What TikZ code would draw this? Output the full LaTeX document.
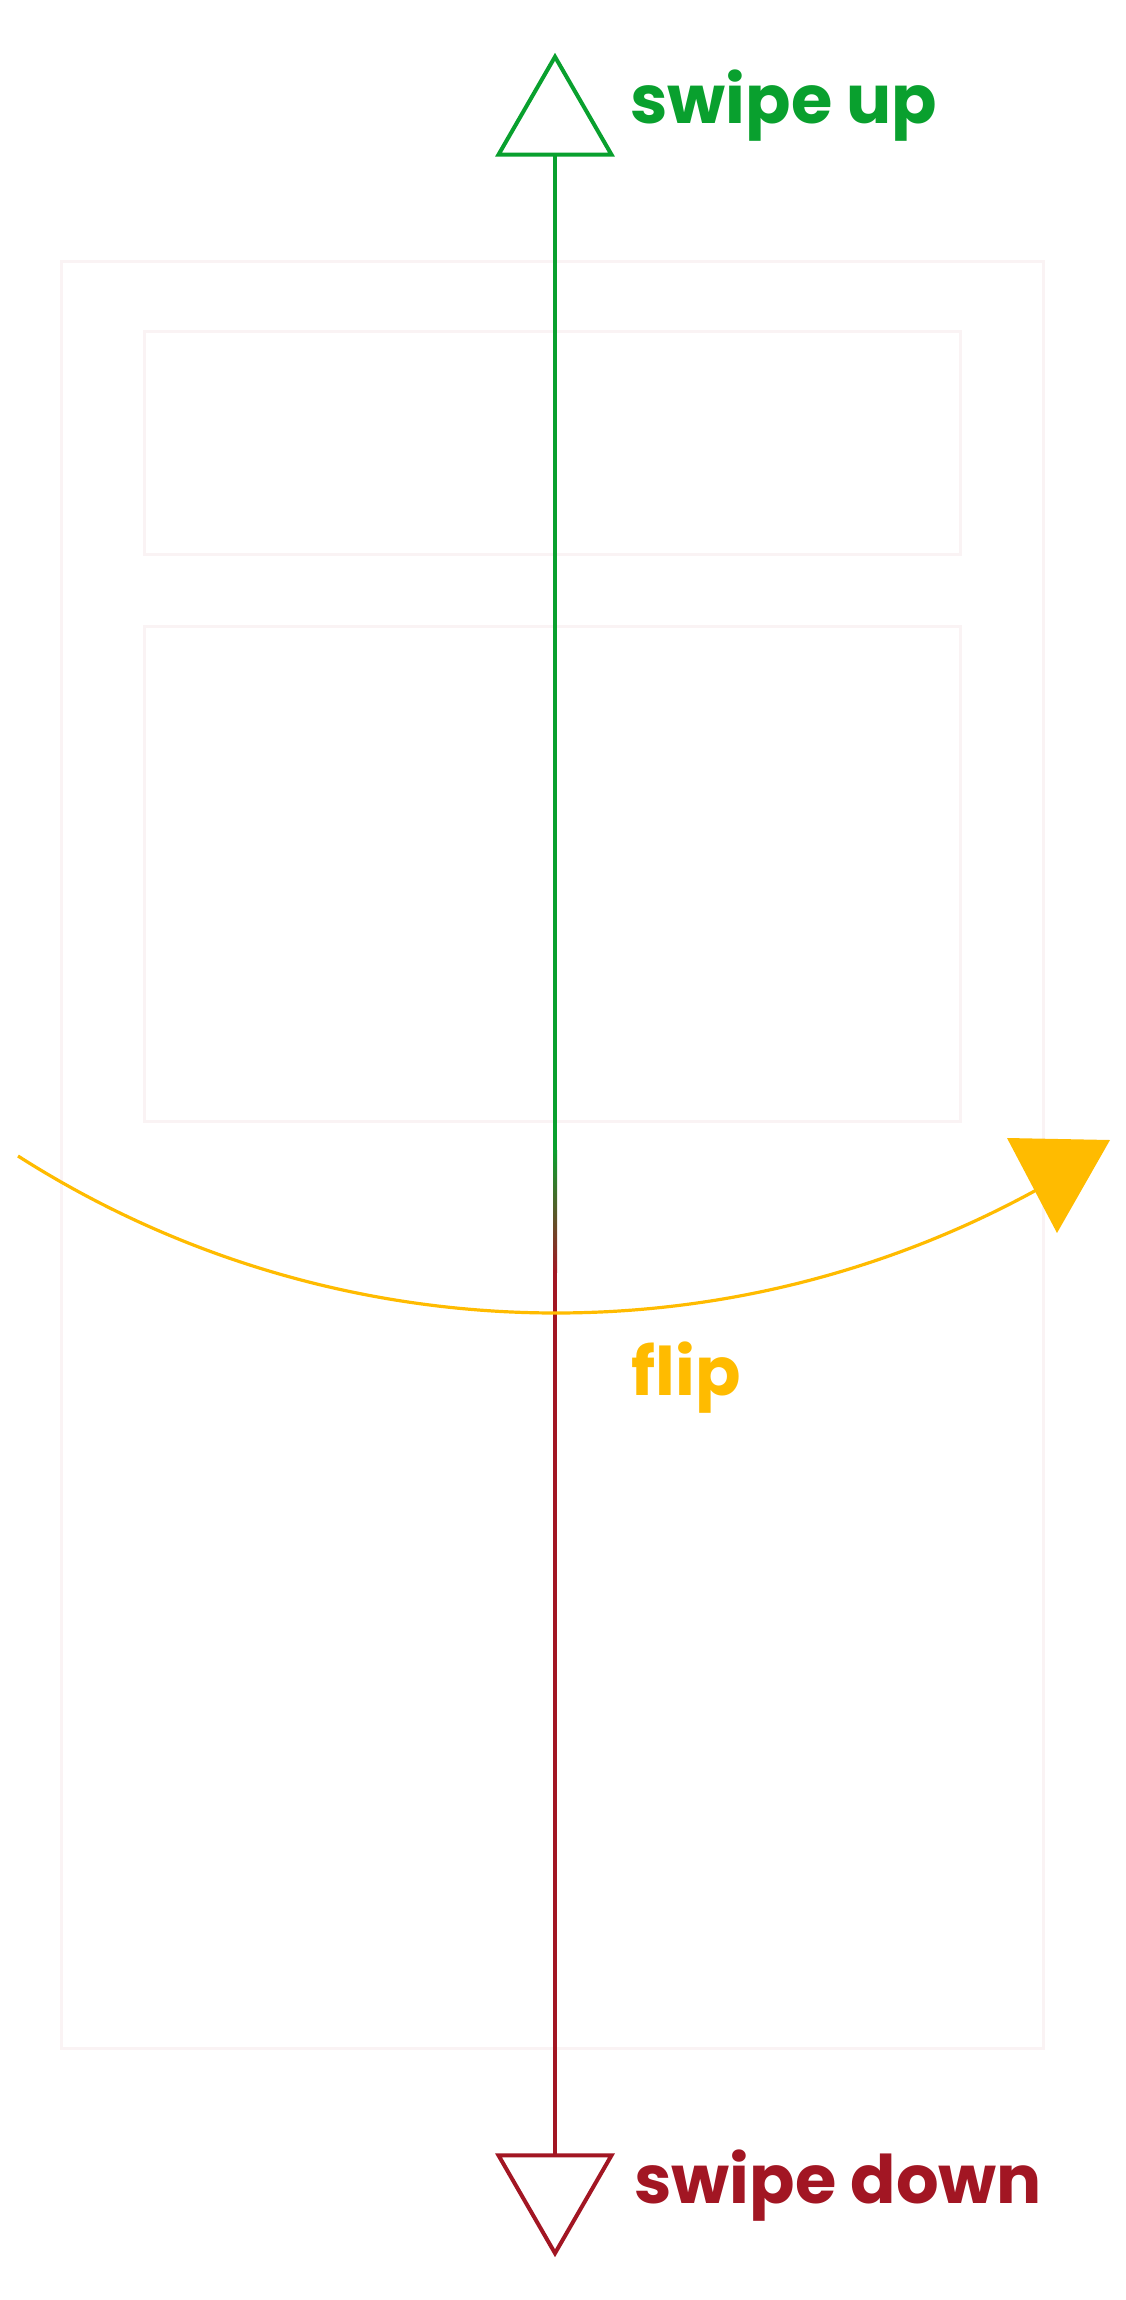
\documentclass[tikz,border=0pt]{standalone}
\usepackage{fontspec}
\usepackage{tikz}
\usetikzlibrary{shapes.geometric}
\newfontfamily\swipefont{Poppins}
\definecolor{swipegreen}{RGB}{9,160,46}
\definecolor{swipered}{RGB}{162,22,35}
\definecolor{flipyellow}{RGB}{255,187,0}
\definecolor{rectgray}{RGB}{250,243,244}

\begin{document}
\begin{tikzpicture}[x=0.5pt,y=-0.5pt,
  screen/.style={draw=rectgray, line width=1.5pt},
  swipehead/.style={regular polygon, regular polygon sides=3, minimum size=65.2pt,
    inner sep=0pt, outer sep=0pt, line width=2pt, line join=miter},
  swipelabel/.style={font=\swipefont\bfseries\fontsize{33.5}{33.5}\selectfont,
    anchor=base west, inner sep=0pt},
  flipline/.style={draw=flipyellow, line width=1.6pt}]
  \useasboundingbox (0,0) rectangle (1125,2300);

  \draw[screen] (61,262) rectangle (1043,2048);
  \draw[screen] (144,332) rectangle (960,554);
  \draw[screen] (144,626) rectangle (960,1121);

  \node[swipehead, draw=swipegreen] (up) at (555,122) {};
  \node[swipehead, draw=swipered, shape border rotate=180] (down) at (555,2188) {};
  \node[swipelabel, text=swipegreen] (uplabel) at (630,124) {swipe up};
  \node[swipelabel, text=swipered] (downlabel) at (634,2203) {swipe down};

  \coordinate (fadetop) at (555,1150);
  \coordinate (fadebot) at (555,1272);
  \draw[swipegreen, line width=2pt] (up.south) -- (fadetop);
  \shade[top color=swipegreen, bottom color=swipered]
    ([xshift=-1pt]fadetop) rectangle ([xshift=1pt]fadebot);
  \draw[swipered, line width=2pt] (fadebot) -- (down.north);

  \coordinate (flipstart) at (18,1156);
  \draw[flipline] (flipstart) arc[start angle=237.46, end angle=299, radius=500pt];
  \fill[flipyellow] (1007,1138) -- (1110,1140) -- (1057,1233) -- cycle;
  \node[swipelabel, text=flipyellow] (fliplabel) at (631,1395) {flip};
\end{tikzpicture}
\end{document}
